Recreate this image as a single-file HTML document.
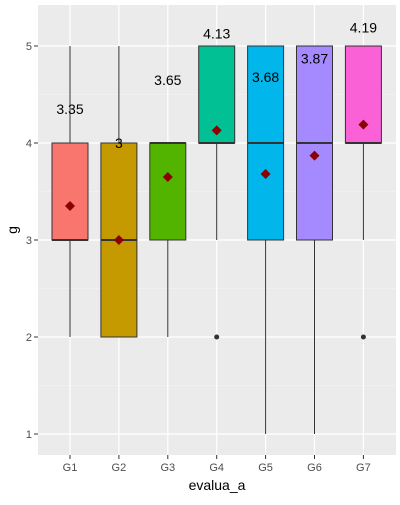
<!DOCTYPE html>
<html><head><meta charset="utf-8"><style>
body{margin:0;background:#fff;font-family:"Liberation Sans",sans-serif}
</style></head><body>
<svg id="c" width="400" height="500" xmlns="http://www.w3.org/2000/svg"></svg>
<script>
const categories=["G1","G2","G3","G4","G5","G6","G7"];
const lowerWhisker=[2,2,2,3,1,1,3];
const q1=[3,2,3,4,3,3,4];
const medians=[3,3,4,4,4,4,4];
const q3=[4,4,4,5,5,5,5];
const upperWhisker=[5,5,4,5,5,5,5];
const means=[3.35,3,3.65,4.13,3.68,3.87,4.19];
const meanLabels=["3.35","3","3.65","4.13","3.68","3.87","4.19"];
const outliers=[[],[],[],[2],[],[],[2]];
const colors=["#F8766D","#C49A00","#53B400","#00C094","#00B6EB","#A58AFF","#FB61D7"];
const yTicks=[1,2,3,4,5];

const svg=document.getElementById('c');
const NS="http://www.w3.org/2000/svg";
const px0=38,px1=396,py0=5,py1=455;
const y=v=>434-(v-1)*97;
const x=i=>70+i*48.9;
function mk(tag,attrs,parent){const e=document.createElementNS(NS,tag);for(const k in attrs)e.setAttribute(k,attrs[k]);(parent||svg).appendChild(e);return e;}

const panel=mk('rect',{x:px0,y:py0,width:px1-px0,height:py1-py0,fill:'#EBEBEB'});


// minor grid
for(let v=0.5;v<=5.5;v+=1){const yy=y(v);if(yy<py0||yy>py1)continue;
 const g=mk('line',{x1:px0,x2:px1,y1:yy,y2:yy,stroke:'#F5F5F5','stroke-width':0.6});
 
 }
yTicks.forEach(v=>{const g=mk('line',{x1:px0,x2:px1,y1:y(v),y2:y(v),stroke:'#fff','stroke-width':1.2});
 
 
 const t=mk('text',{x:32,y:y(v)+4,'text-anchor':'end','font-size':11,fill:'#4D4D4D'});t.textContent=v;
 
 
 const tk=mk('line',{x1:34,x2:38,y1:y(v),y2:y(v),stroke:'#333'});
 
 });
categories.forEach((c,i)=>{const g=mk('line',{x1:x(i),x2:x(i),y1:py0,y2:py1,stroke:'#fff','stroke-width':1.2});
 
 });
categories.forEach((c,i)=>{
 const cx=x(i),w=36;
 const wl=mk('line',{x1:cx,x2:cx,y1:y(upperWhisker[i]),y2:y(lowerWhisker[i]),stroke:'#333','stroke-width':1});
 
 
 const b=mk('rect',{x:cx-w/2,y:y(q3[i]),width:w,height:y(q1[i])-y(q3[i]),fill:colors[i],stroke:'#333','stroke-width':1});
 
 
 const m=mk('line',{x1:cx-w/2,x2:cx+w/2,y1:y(medians[i]),y2:y(medians[i]),stroke:'#333','stroke-width':2});
 
 
 outliers[i].forEach(o=>{const p=mk('circle',{cx:cx,cy:y(o),r:2.5,fill:'#333'});
  
  });
 const my=y(means[i]);
 const d=mk('polygon',{points:`${cx},${my-5} ${cx+5},${my} ${cx},${my+5} ${cx-5},${my}`,fill:'#8B0000'});
 
 
 const t=mk('text',{x:cx,y:y(means[i]+1)+5,'text-anchor':'middle','font-size':14,fill:'#000'});t.textContent=meanLabels[i];
 
 
 const tk=mk('line',{x1:cx,x2:cx,y1:py1,y2:py1+4,stroke:'#333'});
 
 
 const xl=mk('text',{x:cx,y:471,'text-anchor':'middle','font-size':11,fill:'#4D4D4D'});xl.textContent=c;
 
 
});
const xt=mk('text',{x:217,y:490,'text-anchor':'middle','font-size':14,fill:'#000'});xt.textContent='evalua_a';


const yt=mk('text',{x:0,y:0,'text-anchor':'middle','font-size':14,fill:'#000',transform:'translate(17,230) rotate(-90)'});yt.textContent='g';


</script>
</body></html>
